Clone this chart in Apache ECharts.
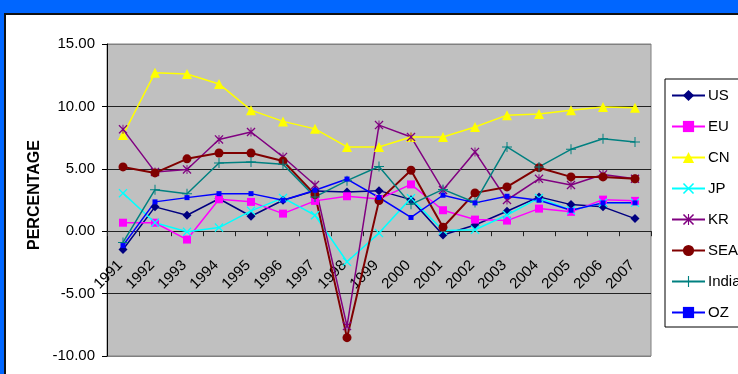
<!DOCTYPE html>
<html>
<head>
<meta charset="utf-8">
<title>Growth rates 1991-2007</title>
<script src="https://cdn.jsdelivr.net/npm/echarts@6/dist/echarts.min.js"></script>
<style>
  html, body { margin: 0; padding: 0; width: 738px; height: 374px; overflow: hidden; background: #0066ff; }
  #panel { position: absolute; left: 4px; top: 13px; width: 800px; height: 420px; background: #fff; border: 2px solid #111; box-sizing: border-box; }
  #chart { position: absolute; left: 0; top: 0; width: 738px; height: 374px; }
</style>
</head>
<body>
<div id="panel"></div>
<div id="chart"></div>
<script>
// Categories (years)
const years = ['1991','1992','1993','1994','1995','1996','1997','1998','1999',
               '2000','2001','2002','2003','2004','2005','2006','2007'];

// Annual growth, percent
const US    = [-1.47, 1.95, 1.28, 2.60, 1.20, 2.48, 3.23, 3.15, 3.25, 2.53, -0.30, 0.50, 1.60, 2.75, 2.13, 1.95, 1.01];
const EU    = [0.68, 0.68, -0.67, 2.56, 2.35, 1.41, 2.43, 2.80, 2.58, 3.75, 1.68, 0.93, 0.85, 1.81, 1.55, 2.53, 2.43];
const CN    = [7.70, 12.70, 12.60, 11.80, 9.70, 8.80, 8.20, 6.75, 6.75, 7.55, 7.55, 8.35, 9.30, 9.40, 9.70, 9.95, 9.90];
const JP    = [3.05, 0.68, -0.05, 0.29, 1.63, 2.67, 1.28, -2.45, -0.15, 2.65, 0.05, 0.12, 1.30, 2.67, 1.68, 2.27, 2.27];
const KR    = [8.16, 4.75, 4.95, 7.35, 7.95, 5.95, 3.70, -7.60, 8.50, 7.55, 3.30, 6.35, 2.50, 4.20, 3.70, 4.55, 4.20];
const SEA   = [5.15, 4.67, 5.80, 6.27, 6.27, 5.63, 2.93, -8.53, 2.45, 4.88, 0.32, 3.07, 3.55, 5.09, 4.35, 4.35, 4.20];
const India = [-0.90, 3.33, 3.00, 5.47, 5.55, 5.36, 2.75, 4.05, 5.18, 2.15, 3.35, 2.30, 6.75, 5.15, 6.56, 7.41, 7.15];
const OZ    = [-1.15, 2.35, 2.69, 3.01, 3.01, 2.48, 3.28, 4.18, 2.70, 1.10, 2.88, 2.27, 2.80, 2.48, 1.68, 2.27, 2.27];

// Value axis ticks
const yMin = -10, yMax = 15, yStep = 5;

const FONT = '"Liberation Sans", Arial, sans-serif';

// Plot box
const GRID = { left: 107, right: 87, top: 44, bottom: 18 };
const plotH = 374 - GRID.top - GRID.bottom;
// Category axis sits on the zero line: lift it from the bottom edge
const zeroLift = plotH * (0 - yMin) / (yMax - yMin);

// Marker glyphs
const CROSS_X = 'path://M1,0 L5,4 L9,0 L10,1 L6,5 L10,9 L9,10 L5,6 L1,10 L0,9 L4,5 L0,1 Z';
const STAR = 'path://M1,0 L5,4 L9,0 L10,1 L6,5 L10,9 L9,10 L5,6 L1,10 L0,9 L4,5 L0,1 Z M4.5,0 L5.5,0 L5.5,10 L4.5,10 Z';
const PLUS = 'path://M4.5,0 L5.5,0 L5.5,4.5 L10,4.5 L10,5.5 L5.5,5.5 L5.5,10 L4.5,10 L4.5,5.5 L0,5.5 L0,4.5 L4.5,4.5 Z';

function line(name, data, color, symbol, size, width) {
  return {
    name, type: 'line', data,
    symbol, symbolSize: size,
    showSymbol: true,
    lineStyle: { color, width: width || 1.5 },
    itemStyle: { color, borderWidth: 0 },
    emphasis: { disabled: true },
    animation: false
  };
}

const chart = echarts.init(document.getElementById('chart'), null, { renderer: 'canvas' });
chart.setOption({
  backgroundColor: 'transparent',
  textStyle: { fontFamily: FONT },
  grid: {
    left: GRID.left, right: GRID.right, top: GRID.top, bottom: GRID.bottom,
    outerBoundsMode: 'none', containLabel: false,
    show: true, backgroundColor: '#c0c0c0', borderColor: '#808080', borderWidth: 1
  },
  legend: {
    orient: 'vertical',
    left: 665, top: 79,
    padding: [9, 40, 7, 6],
    itemWidth: 33, itemHeight: 14, itemGap: 16,
    backgroundColor: '#fff',
    borderColor: '#000', borderWidth: 1, borderRadius: 0,
    textStyle: { fontFamily: FONT, fontSize: 15, color: '#000', padding: [0, 0, 0, -2] },
    selectedMode: false
  },
  graphic: [{
    type: 'text',
    x: 35, y: 195,
    rotation: Math.PI / 2,
    style: {
      text: 'PERCENTAGE',
      font: 'bold 16px ' + FONT,
      fill: '#000',
      textAlign: 'center',
      textVerticalAlign: 'middle'
    }
  }],
  xAxis: {
    type: 'category',
    data: years,
    boundaryGap: true,
    position: 'bottom',
    offset: -zeroLift,
    axisLine: { onZero: false, lineStyle: { color: '#222', width: 1 } },
    axisTick: { show: true, inside: false, length: 5, lineStyle: { color: '#222' } },
    axisLabel: {
      rotate: 45, interval: 0, margin: 29,
      fontFamily: FONT, fontSize: 15, color: '#000',
      padding: [0, 4, 8, 0]
    },
    splitLine: { show: false }
  },
  yAxis: {
    type: 'value',
    min: yMin, max: yMax, interval: yStep,
    axisLine: { show: true, lineStyle: { color: '#000', width: 1 } },
    axisTick: { show: true, inside: false, length: 5, lineStyle: { color: '#000' } },
    axisLabel: {
      margin: 12,
      fontFamily: FONT, fontSize: 15, color: '#000',
      formatter: v => v.toFixed(2)
    },
    splitLine: {
      show: true,
      lineStyle: { color: ['#808080', '#222', '#222', '#222', '#222', '#808080'], width: 1 }
    }
  },
  series: [
    line('US', US, '#000080', 'diamond', 9),
    line('EU', EU, '#ff00ff', 'rect', 8),
    line('CN', CN, '#ffff00', 'triangle', 10),
    line('JP', JP, '#00ffff', CROSS_X, 9),
    line('KR', KR, '#800080', STAR, 9),
    line('SEA', SEA, '#800000', 'circle', 9, 2),
    line('India', India, '#008080', PLUS, 10),
    line('OZ', OZ, '#0000ff', 'rect', 5)
  ]
});
</script>
</body>
</html>
